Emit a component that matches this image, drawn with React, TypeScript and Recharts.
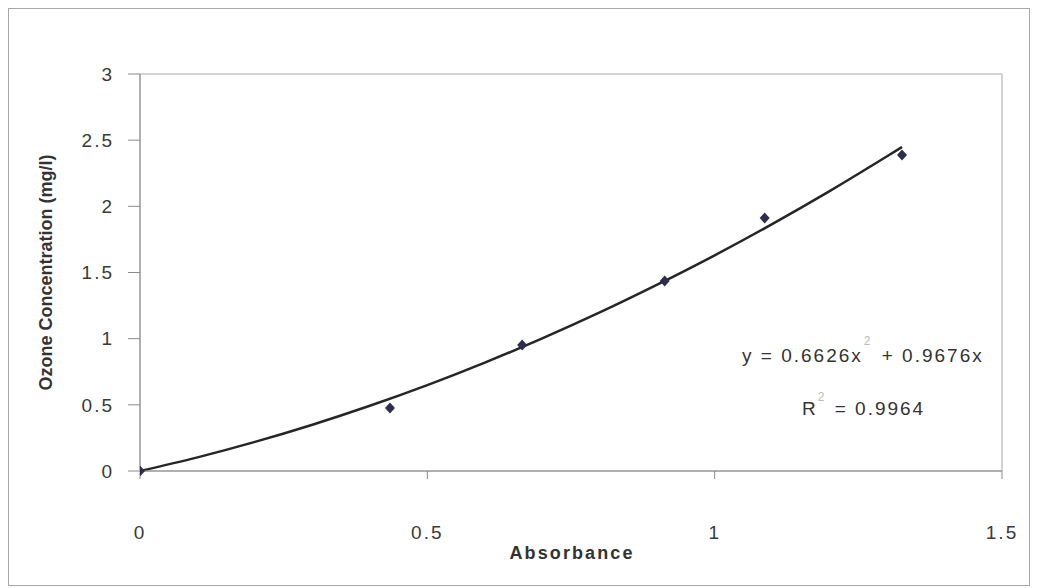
import {
  ComposedChart, Scatter, Line, XAxis, YAxis, ReferenceArea,
} from 'recharts';

const ABSORBANCE = [0, 0.435, 0.665, 0.913, 1.087, 1.326];
const CONCENTRATION = [0, 0.476, 0.952, 1.436, 1.912, 2.388];

// Polynomial trendline, sampled along the drawn curve
const TREND_X = [0, 0.1, 0.2, 0.3, 0.4, 0.5, 0.6, 0.7, 0.8, 0.9, 1.0, 1.1, 1.2, 1.3, 1.326];
const TREND_Y = [0, 0.103, 0.220, 0.350, 0.493, 0.649, 0.819, 1.002, 1.198, 1.408, 1.630, 1.866, 2.115, 2.378, 2.448];

const X_TICKS = [0, 0.5, 1, 1.5];
const Y_TICKS = [0, 0.5, 1, 1.5, 2, 2.5, 3];

const FONT = '"Liberation Sans", Arial, sans-serif';

const points = ABSORBANCE.map((x, i) => ({ x, y: CONCENTRATION[i] }));
const trend = TREND_X.map((x, i) => ({ x, t: TREND_Y[i] }));

// Excel-style diamond marker
function Diamond(props: any) {
  const { cx, cy } = props;
  if (cx == null || cy == null) return null;
  return <path d={`M${cx},${cy - 5.5}L${cx + 5},${cy}L${cx},${cy + 5.5}L${cx - 5},${cy}Z`} fill="#2e2e4a" />;
}

function YTitle(props: any) {
  const vb = props.viewBox || {};
  const cx = (vb.x ?? 0) + 37;
  const cy = (vb.y ?? 0) + (vb.height ?? 0) / 2;
  return (
    <text x={cx} y={cy} transform={`rotate(-90 ${cx} ${cy})`} textAnchor="middle" dominantBaseline="central"
      style={{ fontFamily: FONT, fontSize: 18, fontWeight: 700, fill: '#333' }}>
      Ozone Concentration (mg/l)
    </text>
  );
}

function XTitle(props: any) {
  const vb = props.viewBox || {};
  const cx = (vb.x ?? 0) + (vb.width ?? 0) / 2 + 1;
  const cy = (vb.y ?? 0) + 82;
  return (
    <text x={cx} y={cy} textAnchor="middle" dominantBaseline="central"
      style={{ fontFamily: FONT, fontSize: 18, fontWeight: 700, fill: '#333', letterSpacing: 2.1 }}>
      Absorbance
    </text>
  );
}

const tickStyle = { fill: '#3a3a3a', fontSize: 19, fontFamily: FONT, letterSpacing: 2 };
const supStyle: React.CSSProperties = {
  fontSize: 12, color: '#bbb', letterSpacing: 0, position: 'relative',
};

export default function App() {
  return (
    <div style={{ position: 'relative', width: 1020, height: 576, border: '1px solid #a8a8a8', background: '#fff' }}>
      <ComposedChart width={1020} height={576} margin={{ top: 65, right: 27, left: 0, bottom: 0 }}>
        <XAxis
          type="number" dataKey="x" domain={[0, 1.5]} ticks={X_TICKS}
          height={114} tickSize={8} tickMargin={47}
          stroke="#8a8a8a" tick={tickStyle} allowDataOverflow
          label={<XTitle />}
        />
        <YAxis
          type="number" domain={[0, 3]} ticks={Y_TICKS}
          width={131} tickSize={12} tickMargin={14}
          stroke="#8a8a8a" tick={tickStyle}
          label={<YTitle />}
        />
        <ReferenceArea x1={0} x2={1.5} y1={0} y2={3} fill="none" stroke="#aaaaaa" strokeWidth={1} />
        <Line
          data={trend} dataKey="t" type="monotone" stroke="#262626" strokeWidth={2.5}
          dot={false} activeDot={false} isAnimationActive={false}
        />
        <Scatter data={points} dataKey="y" shape={<Diamond />} isAnimationActive={false} />
      </ComposedChart>

      <div style={{ position: 'absolute', left: 733, top: 337, fontFamily: FONT, fontSize: 19, lineHeight: '19px', letterSpacing: 2, color: '#333', whiteSpace: 'nowrap' }}>
        y = 0.6626x<span style={{ ...supStyle, top: -17, marginLeft: 1, marginRight: 4 }}>2</span> + 0.9676x
      </div>
      <div style={{ position: 'absolute', left: 793, top: 390, fontFamily: FONT, fontSize: 19, lineHeight: '19px', letterSpacing: 2, color: '#333', whiteSpace: 'nowrap' }}>
        R<span style={{ ...supStyle, top: -14, marginLeft: 0, marginRight: 3 }}>2</span> = 0.9964
      </div>
    </div>
  );
}
